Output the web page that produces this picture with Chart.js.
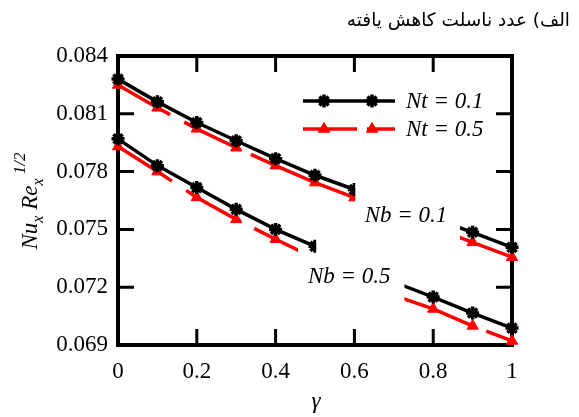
<!DOCTYPE html>
<html>
<head>
<meta charset="utf-8">
<script src="https://cdn.jsdelivr.net/npm/chart.js@4/dist/chart.umd.min.js"></script>
<style>
  html, body { margin: 0; padding: 0; background: #fff; }
  canvas { display: block; }
</style>
</head>
<body>
<canvas id="nuChart" width="579" height="417"></canvas>
<script>
// gamma values and the four curves
const gamma = [0, 0.1, 0.2, 0.3, 0.4, 0.5, 0.6, 0.7, 0.8, 0.9, 1];
const nb01Nt01 = [0.0828, 0.08162, 0.08055, 0.0796, 0.07867, 0.07781, 0.07707, 0.07633, 0.07559, 0.07485, 0.07407];
const nb01Nt05 = [0.0825, 0.08131, 0.08022, 0.07924, 0.07831, 0.07743, 0.07665, 0.0759, 0.0751, 0.07433, 0.07356];
const nb05Nt01 = [0.0797, 0.07831, 0.07717, 0.07604, 0.0750, 0.07412, 0.0731, 0.07227, 0.07149, 0.07066, 0.06988];
const nb05Nt05 = [0.0793, 0.0780, 0.07666, 0.07552, 0.07449, 0.0735, 0.0725, 0.07158, 0.07087, 0.06999, 0.06921];

const xTicks = [0, 0.2, 0.4, 0.6, 0.8, 1];
const yTicks = [0.069, 0.072, 0.075, 0.078, 0.081, 0.084];

const legendItems = ['Nt = 0.1', 'Nt = 0.5'];
const curveLabels = ['Nb = 0.1', 'Nb = 0.5'];
const caption = 'الف) عدد ناسلت کاهش یافته';

const SERIF = '"Liberation Serif", "Times New Roman", serif';
const RED = '#ff0000';

// where each line is broken to leave room for the Nb labels (gamma units)
const cuts = [[0.602, 0.868], [0.602, 0.868], [0.503, 0.727], [0.457, 0.727]];

const blackStyle = { borderColor: '#000', borderWidth: 3.5, pointStyle: 'star', pointRadius: 6.5,
  pointBorderColor: '#000', pointBackgroundColor: '#000', pointBorderWidth: 3.5 };
const redStyle = { borderColor: RED, borderWidth: 3.5, pointStyle: 'triangle', pointRadius: 6.5,
  pointBorderColor: RED, pointBackgroundColor: RED, pointBorderWidth: 1 };

function pts(arr) { return gamma.map((g, i) => ({ x: g, y: arr[i] })); }

function drawMarker(ctx, style, x, y) {
  ctx.save();
  ctx.fillStyle = style.pointBackgroundColor;
  ctx.strokeStyle = style.pointBorderColor;
  ctx.lineWidth = style.pointBorderWidth;
  ctx.setLineDash([]);
  Chart.helpers.drawPoint(ctx, { pointStyle: style.pointStyle, radius: style.pointRadius,
    borderWidth: style.pointBorderWidth, rotation: 0 }, x, y);
  ctx.restore();
}

const decor = {
  id: 'decor',
  beforeDatasetsDraw(chart) {
    const { ctx, chartArea: a, scales } = chart;
    ctx.save();
    ctx.strokeStyle = '#000';
    ctx.lineWidth = 4;
    ctx.strokeRect(a.left, a.top, a.right - a.left, a.bottom - a.top);
    ctx.lineWidth = 3;
    const tl = 16;
    ctx.beginPath();
    xTicks.slice(1, -1).forEach(v => {
      const px = scales.x.getPixelForValue(v);
      ctx.moveTo(px, a.bottom); ctx.lineTo(px, a.bottom - tl);
      ctx.moveTo(px, a.top); ctx.lineTo(px, a.top + tl);
    });
    yTicks.slice(1, -1).forEach(v => {
      const py = scales.y.getPixelForValue(v);
      ctx.moveTo(a.left, py); ctx.lineTo(a.left + tl, py);
      ctx.moveTo(a.right, py); ctx.lineTo(a.right - tl, py);
    });
    ctx.stroke();
    ctx.restore();
  },
  beforeDatasetDraw(chart, args) {
    const cut = cuts[args.index];
    if (!cut) return;
    const ctx = chart.ctx, xs = chart.scales.x;
    const p1 = xs.getPixelForValue(cut[0]), p2 = xs.getPixelForValue(cut[1]);
    ctx.save();
    ctx.beginPath();
    ctx.rect(0, 0, p1, chart.height);
    ctx.rect(p2, 0, chart.width - p2, chart.height);
    ctx.clip();
  },
  afterDatasetDraw(chart, args) {
    if (cuts[args.index]) chart.ctx.restore();
  },
  afterDraw(chart) {
    const { ctx, scales } = chart;
    ctx.save();

    // legend
    [blackStyle, redStyle].forEach((st, i) => {
      const y = 101 + i * 28;
      ctx.strokeStyle = st.borderColor;
      ctx.lineWidth = st.borderWidth;
      ctx.setLineDash(i === 1 ? [54, 10, 200] : []);
      ctx.beginPath(); ctx.moveTo(303, y); ctx.lineTo(395, y); ctx.stroke();
      ctx.setLineDash([]);
      drawMarker(ctx, st, 324, y);
      drawMarker(ctx, st, 372, y);
      ctx.fillStyle = '#000';
      ctx.font = 'italic 23px ' + SERIF;
      ctx.textAlign = 'left';
      ctx.textBaseline = 'middle';
      ctx.fillText(legendItems[i], 406, y + 1);
    });

    // Nb labels
    ctx.font = 'italic 23px ' + SERIF;
    ctx.textAlign = 'left';
    ctx.textBaseline = 'middle';
    ctx.fillText(curveLabels[0], scales.x.getPixelForValue(0.626), scales.y.getPixelForValue(0.0757));
    ctx.fillText(curveLabels[1], scales.x.getPixelForValue(0.482), scales.y.getPixelForValue(0.07252));

    // x title
    ctx.textAlign = 'center';
    ctx.fillText('γ', 316, 402);

    // y title, rotated
    ctx.translate(37, 201);
    ctx.rotate(-Math.PI / 2);
    const parts = [
      ['Nu', 23, 0], ['x', 16, 6], [' Re', 23, 0], ['x', 16, 6], [' 1/2', 17, -12]
    ];
    let total = 0;
    parts.forEach(p => { ctx.font = 'italic ' + p[1] + 'px ' + SERIF; total += ctx.measureText(p[0]).width; });
    let x = -total / 2;
    ctx.textAlign = 'left';
    ctx.textBaseline = 'alphabetic';
    parts.forEach(p => {
      ctx.font = 'italic ' + p[1] + 'px ' + SERIF;
      ctx.fillText(p[0], x, p[2]);
      x += ctx.measureText(p[0]).width;
    });
    ctx.restore();

    // Persian caption
    ctx.save();
    ctx.font = '18.5px "DejaVu Sans", "Noto Sans", sans-serif';
    ctx.fillStyle = '#000';
    ctx.direction = 'rtl';
    ctx.textAlign = 'right';
    ctx.textBaseline = 'middle';
    ctx.fillText(caption, 570, 21);
    ctx.restore();
  }
};

new Chart(document.getElementById('nuChart'), {
  type: 'line',
  data: {
    datasets: [
      Object.assign({ data: pts(nb01Nt01), clip: false }, blackStyle),
      Object.assign({ data: pts(nb01Nt05), clip: false, borderDash: [60, 16, 62, 12, 400] }, redStyle),
      Object.assign({ data: pts(nb05Nt01), clip: false }, blackStyle),
      Object.assign({ data: pts(nb05Nt05), clip: false, borderDash: [64, 17, 63, 15, 238, 16, 300] }, redStyle)
    ]
  },
  options: {
    responsive: false,
    animation: false,
    layout: { padding: { top: 56, right: 67, left: 0, bottom: 0 } },
    plugins: { legend: { display: false }, tooltip: { enabled: false } },
    elements: { line: { tension: 0 } },
    scales: {
      x: {
        type: 'linear', min: 0, max: 1,
        afterBuildTicks: s => { s.ticks = xTicks.map(v => ({ value: v })); },
        afterFit: s => { s.height = 72; },
        grid: { display: false, drawTicks: false },
        border: { display: false },
        ticks: { color: '#000', padding: 13, maxRotation: 0, font: { family: SERIF, size: 23 },
          callback: v => String(v) }
      },
      y: {
        min: 0.069, max: 0.084,
        afterBuildTicks: s => { s.ticks = yTicks.map(v => ({ value: v })); },
        afterFit: s => { s.width = 118; },
        grid: { display: false, drawTicks: false },
        border: { display: false },
        ticks: { color: '#000', padding: 10, font: { family: SERIF, size: 23 },
          callback: v => v.toFixed(3) }
      }
    }
  },
  plugins: [decor]
});
</script>
</body>
</html>
